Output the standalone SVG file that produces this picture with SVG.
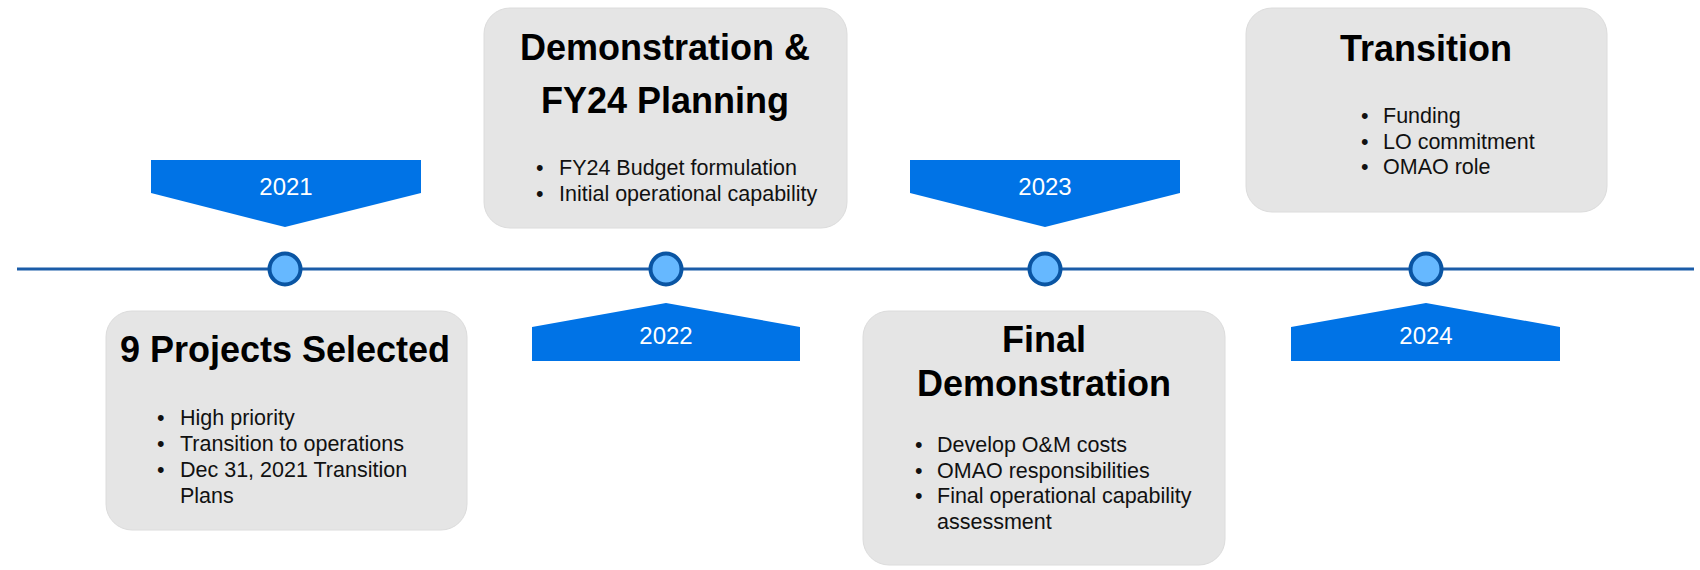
<svg xmlns="http://www.w3.org/2000/svg" width="1700" height="570" viewBox="0 0 1700 570">
<style>
.box{fill:#e5e5e5;stroke:#dcdcdc;stroke-width:1}
.banner{fill:#0073e6}
.yr{font-family:"Liberation Sans",Arial,sans-serif;font-size:24px;fill:#fff;text-anchor:middle}
.title{font-family:"Liberation Sans",Arial,sans-serif;font-size:36px;font-weight:bold;fill:#000;text-anchor:middle}
.item{font-family:"Liberation Sans",Arial,sans-serif;font-size:21.5px;fill:#111}
.dot{fill:#66b8ff;stroke:#0a55a3;stroke-width:4}
.axis{stroke:#1b5ca8;stroke-width:3;fill:none}
</style>
<rect width="1700" height="570" fill="#fff"/>
<g id="connectors">
<line class="axis" x1="17" y1="269" x2="1694" y2="269"/>
</g>
<g id="banner-2021">
<polygon class="banner" points="151,160 421,160 421,193 285,227 151,193"/>
<text class="yr" x="286" y="195">2021</text>
</g>
<g id="banner-2022">
<polygon class="banner" points="532,327 666,303 800,327 800,361 532,361"/>
<text class="yr" x="666" y="344">2022</text>
</g>
<g id="banner-2023">
<polygon class="banner" points="910,160 1180,160 1180,193 1045,227 910,193"/>
<text class="yr" x="1045" y="195">2023</text>
</g>
<g id="banner-2024">
<polygon class="banner" points="1291,327 1426,303 1560,327 1560,361 1291,361"/>
<text class="yr" x="1426" y="344">2024</text>
</g>
<g id="point-2021"><circle class="dot" cx="285" cy="269" r="15.5"/></g>
<g id="point-2022"><circle class="dot" cx="666" cy="269" r="15.5"/></g>
<g id="point-2023"><circle class="dot" cx="1045" cy="269" r="15.5"/></g>
<g id="point-2024"><circle class="dot" cx="1426" cy="269" r="15.5"/></g>
<g id="box-projects">
<rect class="box" x="106" y="311" width="361" height="219" rx="26"/>
<text class="title" x="285" y="362">9 Projects Selected</text>
<g class="item">
<text x="157" y="425">•</text><text x="180" y="425">High priority</text>
<text x="157" y="451">•</text><text x="180" y="451">Transition to operations</text>
<text x="157" y="477">•</text><text x="180" y="477">Dec 31, 2021 Transition</text>
<text x="180" y="503">Plans</text>
</g>
</g>
<g id="box-demo">
<rect class="box" x="484" y="8" width="363" height="220" rx="26"/>
<text class="title" x="665" y="60">Demonstration &amp;</text>
<text class="title" x="665" y="113">FY24 Planning</text>
<g class="item">
<text x="536" y="175">•</text><text x="559" y="175">FY24 Budget formulation</text>
<text x="536" y="201">•</text><text x="559" y="201">Initial operational capability</text>
</g>
</g>
<g id="box-final">
<rect class="box" x="863" y="311" width="362" height="254" rx="26"/>
<text class="title" x="1044" y="352">Final</text>
<text class="title" x="1044" y="396">Demonstration</text>
<g class="item">
<text x="915" y="452">•</text><text x="937" y="452">Develop O&amp;M costs</text>
<text x="915" y="478">•</text><text x="937" y="478">OMAO responsibilities</text>
<text x="915" y="503">•</text><text x="937" y="503">Final operational capability</text>
<text x="937" y="529">assessment</text>
</g>
</g>
<g id="box-transition">
<rect class="box" x="1246" y="8" width="361" height="204" rx="26"/>
<text class="title" x="1426" y="61">Transition</text>
<g class="item">
<text x="1361" y="123">•</text><text x="1383" y="123">Funding</text>
<text x="1361" y="149">•</text><text x="1383" y="149">LO commitment</text>
<text x="1361" y="174">•</text><text x="1383" y="174">OMAO role</text>
</g>
</g>
</svg>
